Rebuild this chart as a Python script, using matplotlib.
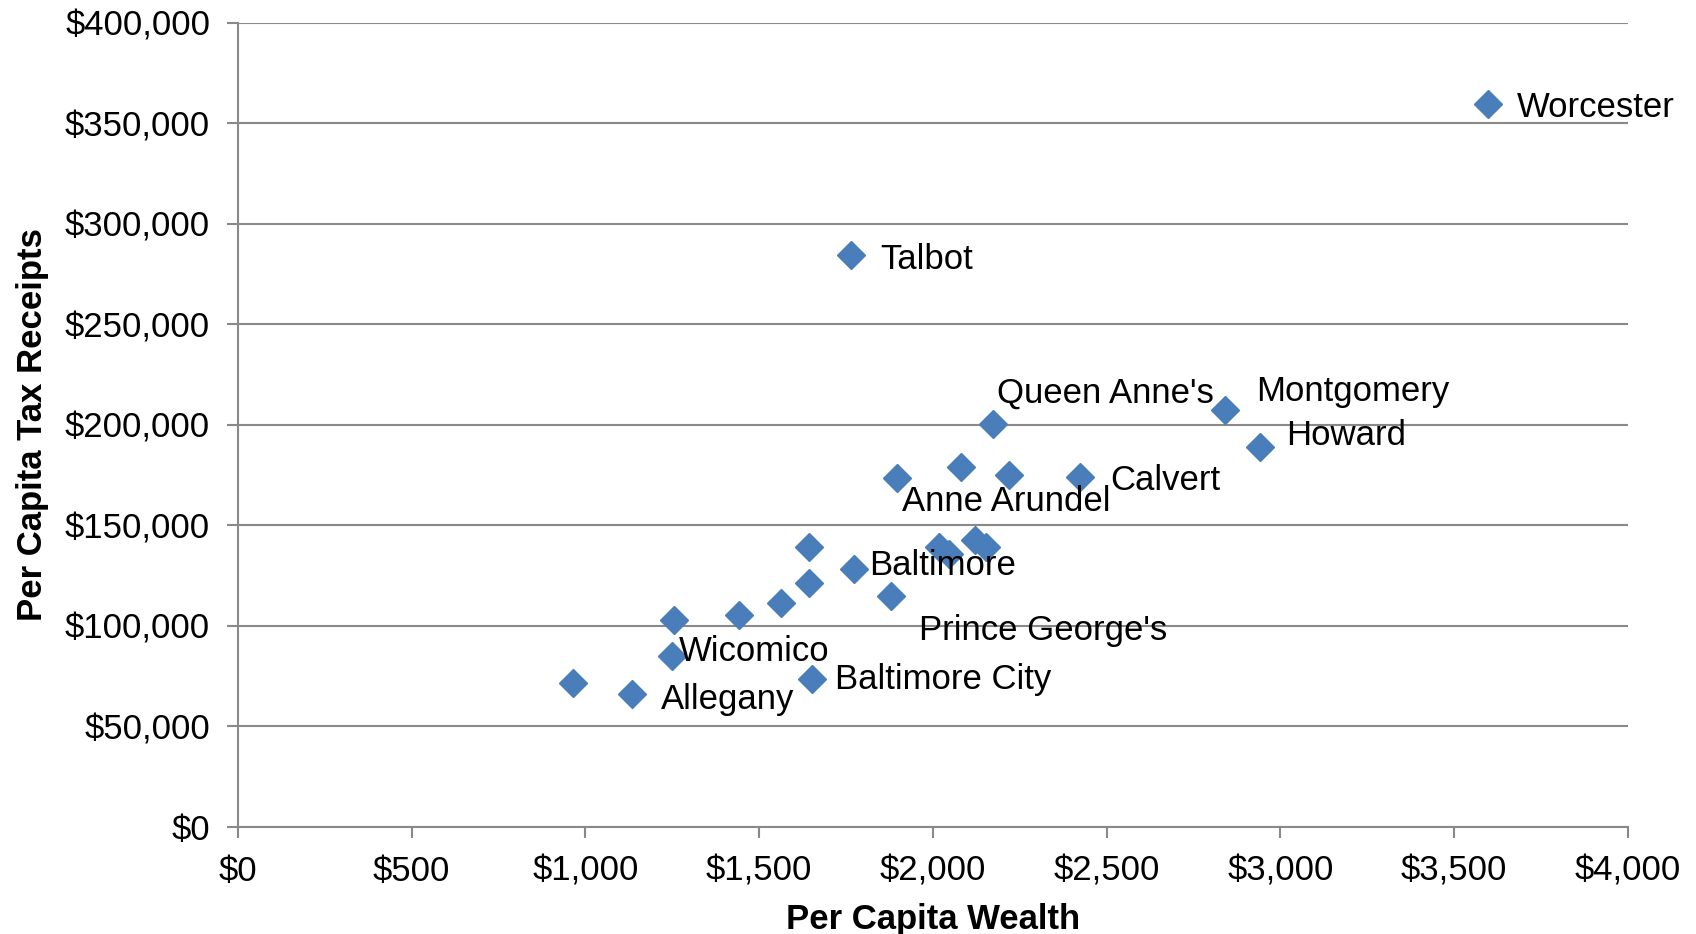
import numpy as np
import matplotlib.pyplot as plt
from matplotlib.ticker import FuncFormatter, MultipleLocator

# per capita wealth ($) and per capita tax receipts ($)
wealth = [3598, 1765, 2842, 2942, 2172, 2082, 2218, 2422, 1896,
          2019, 2045, 2122, 2153, 1644, 1772, 1644, 1563, 1443,
          1880, 1255, 1248, 1651, 964, 1133]
receipts = [359700, 284400, 207500, 189200, 200500, 179000, 174800, 174300, 173500,
            139200, 135600, 142500, 139200, 139200, 128500, 121400, 111400, 105300,
            115100, 102800, 84900, 73800, 71800, 65900]
names = ['Worcester', 'Talbot', 'Montgomery', 'Howard', "Queen Anne's", '', 'Anne Arundel', 'Calvert', '',
         '', '', '', '', '', 'Baltimore', '', '', '',
         "Prince George's", '', 'Wicomico', 'Baltimore City', '', 'Allegany']

# label offsets in points (dx, dy, horizontal alignment)
label_pos = {
    'Worcester': (21, -3, 'left'),
    'Talbot': (21, -3, 'left'),
    'Montgomery': (22, 13, 'left'),
    'Howard': (19, 8, 'left'),
    "Queen Anne's": (3, 22, 'left'),
    'Anne Arundel': (-1.5, -18.5, 'center'),
    'Calvert': (22, -3, 'left'),
    'Baltimore': (11, 2, 'left'),
    "Prince George's": (20, -25, 'left'),
    'Wicomico': (5.5, 3.5, 'left'),
    'Baltimore City': (17, -0.5, 'left'),
    'Allegany': (21, -3.5, 'left'),
}

plt.rcParams['font.family'] = ['Liberation Sans', 'DejaVu Sans']
grey = '#898989'
fs = 25

fig = plt.figure(figsize=(16.96, 9.34), dpi=100)
ax = fig.add_axes([0.1403, 0.1146, 0.8195, 0.8611])

ax.plot(wealth, receipts, linestyle='none', marker='D', ms=14.5,
        color='#4A7EBB', markeredgecolor='#4A7EBB', zorder=3, clip_on=False)

for x, y, n in zip(wealth, receipts, names):
    if not n:
        continue
    dx, dy, ha = label_pos[n]
    ax.annotate(n, (x, y), xytext=(dx, dy), textcoords='offset points',
                ha=ha, va='center', fontsize=fs, color='black', zorder=4)

ax.set_xlim(0, 4000)
ax.set_ylim(0, 400000)
ax.xaxis.set_major_locator(MultipleLocator(500))
ax.yaxis.set_major_locator(MultipleLocator(50000))
ax.xaxis.set_major_formatter(FuncFormatter(lambda v, p: '${:,.0f}'.format(v)))
ax.yaxis.set_major_formatter(FuncFormatter(lambda v, p: '${:,.0f}'.format(v)))

ax.grid(axis='y', color=grey, lw=1.5, zorder=0)
ax.set_axisbelow(True)
for s in ['top', 'right']:
    ax.spines[s].set_visible(False)
for s in ['left', 'bottom']:
    ax.spines[s].set_color(grey)
    ax.spines[s].set_linewidth(1.5)

ax.tick_params(axis='both', colors=grey, labelcolor='black', labelsize=fs,
               length=8, width=1.5, direction='out')
ax.tick_params(axis='y', pad=12)
ax.tick_params(axis='x', pad=12)

ax.set_xlabel('Per Capita Wealth', fontsize=fs, fontweight='bold')
ax.set_ylabel('Per Capita Tax Receipts', fontsize=fs, fontweight='bold')
ax.xaxis.set_label_coords(0.5, -0.094)
ax.yaxis.set_label_coords(-0.136, 0.5)

fig.savefig('out.png', dpi=100)
